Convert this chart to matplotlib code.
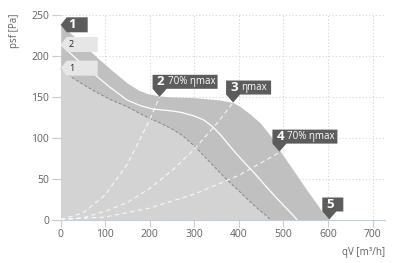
import matplotlib
matplotlib.use("Agg")
import matplotlib.pyplot as plt
from matplotlib.patches import Polygon
from matplotlib.transforms import IdentityTransform

plt.rcParams['font.family'] = ['Open Sans', 'DejaVu Sans']

# ventilatorcurves (qV in m3/h, psf in Pa)
qv_max = [0, 30, 60, 88, 120, 149, 175, 194, 223, 245, 300, 358, 387, 403, 425, 448, 470, 491, 520, 550, 575, 589, 603]
ps_max = [238, 224, 209, 195, 180, 167, 158, 154, 151, 150, 149, 146, 143, 138, 129, 118, 103, 85, 62, 38, 19, 8, 0]

qv_mid = [0, 14, 40, 72, 110, 149, 180, 207, 245, 270, 297, 320, 340, 358, 387, 410, 436, 460, 480, 499, 515, 530]
ps_mid = [214, 207, 194, 179, 162, 146, 139, 135, 133, 131, 127, 122, 114, 104, 85, 71, 56, 41, 29, 18, 9, 0]

qv_low = [0, 27, 72, 110, 149, 190, 223, 252, 275, 302, 335, 374, 400, 421, 445, 463, 470]
ps_low = [185, 173, 158, 147, 138, 126, 118, 110, 102, 89, 70, 48, 35, 24, 12, 4, 0]

# systeemkrommen door de werkpunten
sys2_qv = [0, 50, 100, 150, 200, 222]
sys2_ps = [0, 8, 30, 68, 122, 150]
sys3_qv = [0, 50, 100, 150, 200, 250, 300, 350, 387]
sys3_ps = [0, 2, 10, 21, 38, 60, 86, 117, 143]
sys4_qv = [0, 100, 200, 300, 400, 491]
sys4_ps = [0, 3, 14, 31, 54, 82]

# werkpunten met labels
punt_qv = [222, 387, 491, 603]
punt_ps = [150, 143, 83, 0]
punt_nr = ['2', '3', '4', '5']
punt_txt = ['70% ηmax', 'ηmax', '70% ηmax', '']

x_ticks = [0, 100, 200, 300, 400, 500, 600, 700]
y_ticks = [0, 50, 100, 150, 200, 250]

W, H = 393, 263
fig = plt.figure(figsize=(W / 100, H / 100), dpi=100)
ax = fig.add_axes([52 / W, 1 - 219.5 / H, 333 / W, 204.5 / H])
ax.set_xlim(-19.5, 728)
ax.set_ylim(0, 250)

ax.fill_between(qv_max, ps_max, 0, color='#c0c0c0', lw=0, zorder=2)
ax.fill_between(qv_low, ps_low, 0, color='#d3d3d3', lw=0, zorder=3)
ax.plot(qv_mid, ps_mid, color='white', lw=0.9, zorder=4)
ax.plot(qv_low, ps_low, color='#888888', lw=0.7, ls=(0, (3, 2)), zorder=4)
for sx, sy in [(sys2_qv, sys2_ps), (sys3_qv, sys3_ps), (sys4_qv, sys4_ps)]:
    ax.plot(sx, sy, color='white', lw=0.8, ls=(0, (4, 3)), alpha=0.85, zorder=5)

ax.set_xticks(x_ticks)
ax.set_yticks(y_ticks)
ax.tick_params(axis='x', colors='#c5ced8', length=5, width=0.8, pad=2,
               labelcolor='#606060', labelsize=7.5)
ax.tick_params(axis='y', colors='#c5ced8', length=6.5, width=0.8, pad=2,
               direction='in', labelcolor='#606060', labelsize=7.5)
for s in ['top', 'right', 'left']:
    ax.spines[s].set_visible(False)
ax.spines['bottom'].set_color('#c5ced8')
ax.spines['bottom'].set_linewidth(0.8)
ax.spines['bottom'].set_zorder(6)

for x in x_ticks[1:]:
    ax.axvline(x, color='#d5d5d5', lw=0.8, ls=(0, (1, 2)), zorder=1)
for y in y_ticks[1:]:
    ax.axhline(y, color='#d5d5d5', lw=0.8, ls=(0, (1, 2)), zorder=1)

fig.text(385 / W, 1 - 252 / H, 'qV [m³/h]', ha='right', va='center', fontsize=7, color='#606060')
fig.text(15 / W, 1 - 14 / H, 'psf [Pa]', ha='center', va='top', rotation=90, fontsize=7, color='#606060')

donker = '#5c5c5c'
licht = '#e6e6e6'
ident = IdentityTransform()


def label_omlaag(x, y, nr, txt):
    tx, ty = ax.transData.transform((x, y))
    breedte = 21 if not txt else (45 if len(txt) < 6 else 65)
    links = tx - 7
    pts = [(tx, ty), (links, ty + 8), (links, ty + 22), (links + breedte, ty + 22),
           (links + breedte, ty + 8), (tx + 7, ty + 8)]
    fig.add_artist(Polygon(pts, closed=True, transform=ident, facecolor=donker, lw=0, zorder=10))
    fig.text(links + 4, ty + 15, nr, transform=ident, ha='left', va='center',
             fontsize=9.5, fontweight='bold', color='white', zorder=11)
    if txt:
        fig.text(links + 15, ty + 15, txt, transform=ident, ha='left', va='center',
                 fontsize=7, color='white', zorder=11)


def label_links(y, nr, kleur, tekstkleur, lengte, groot):
    tx, ty = ax.transData.transform((0, y))
    pts = [(tx, ty), (tx + 6, ty + 7.5), (tx + lengte, ty + 7.5),
           (tx + lengte, ty - 7.5), (tx + 6, ty - 7.5)]
    fig.add_artist(Polygon(pts, closed=True, transform=ident, facecolor=kleur, lw=0, zorder=10))
    fig.text(tx + 8, ty, nr, transform=ident, ha='left', va='center',
             fontsize=9.5 if groot else 6.5, fontweight='bold' if groot else 'normal',
             color=tekstkleur, zorder=11)


for x, y, nr, txt in zip(punt_qv, punt_ps, punt_nr, punt_txt):
    label_omlaag(x, y, nr, txt)

label_links(ps_max[0], '1', donker, 'white', 27, True)
label_links(ps_mid[0], '2', licht, '#222222', 37, False)
label_links(ps_low[0], '1', licht, '#222222', 37, False)

fig.savefig('out.png', dpi=100)
